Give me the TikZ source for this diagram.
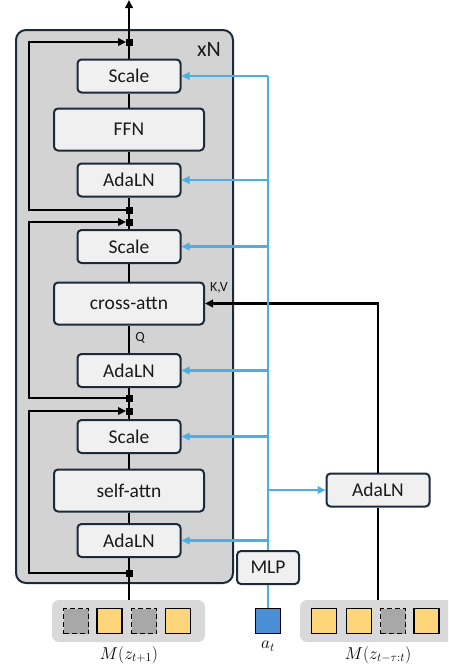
\documentclass[tikz,border=0pt]{standalone}
\usepackage{fontspec}
\setmainfont{Carlito}
\usetikzlibrary{arrows.meta}
\definecolor{navy}{HTML}{1B2B3A}
\definecolor{boxfill}{HTML}{F0F0F0}
\definecolor{outerfill}{HTML}{D3D3D3}
\definecolor{groupfill}{HTML}{D9D9D9}
\definecolor{bluel}{HTML}{4BAEE4}
\definecolor{tokyellow}{HTML}{FFD57A}
\definecolor{tokgray}{HTML}{A8A8A8}
\definecolor{tokblue}{HTML}{4A8FD6}
\definecolor{txt}{HTML}{1A1A1A}
\tikzset{
  blk/.style={draw=navy, line width=2pt, fill=boxfill, rounded corners=4pt, text=txt,
    font=\fontsize{19.5}{22}\selectfont, inner sep=0pt},
  smallblk/.style={blk, minimum width=103pt, minimum height=33pt},
  wideblk/.style={blk, minimum width=150pt, minimum height=42pt},
  wire/.style={draw=black, line width=2.1pt},
  bwire/.style={draw=bluel, line width=2.1pt},
  tip/.style={-{Triangle[length=8pt,width=7.5pt]}},
  junc/.style={fill=black, minimum size=7pt, inner sep=0pt},
  group/.style={fill=groupfill, rounded corners=7pt, inner sep=0pt},
  tokY/.style={draw=black, line width=1.7pt, fill=tokyellow, minimum size=25pt, inner sep=0pt},
  tokG/.style={draw=black, line width=1.7pt, dashed, dash pattern=on 5pt off 3pt, fill=tokgray, minimum size=25pt, inner sep=0pt},
  tokB/.style={draw=black, line width=1.7pt, fill=tokblue, minimum size=25pt, inner sep=0pt},
  mlab/.style={font=\fontsize{17}{19}\selectfont, inner sep=0pt},
  slab/.style={font=\fontsize{14}{16}\selectfont, text=txt, inner sep=0pt}
}
\begin{document}
\begin{tikzpicture}[x=1pt,y=-1pt]
\useasboundingbox (0,0) rectangle (448,664);
% outer block
\draw[navy, line width=2pt, fill=outerfill, rounded corners=10pt] (16,30) rectangle (233,583);
\node[font=\fontsize{22}{24}\selectfont, text=txt] (xn) at (209,49) {xN};

% token groups
\begin{scope}
\clip (0,0) rectangle (448,664);
\node[group, minimum width=153pt, minimum height=42pt] (lgroup) at (128.5,621) {};
\node[group, minimum width=170pt, minimum height=42pt] (rgroup) at (385,621) {};
\end{scope}
\node[tokG] (l1) at (76,621) {};
\node[tokY] (l2) at (109.5,621) {};
\node[tokG] (l3) at (144,621) {};
\node[tokY] (l4) at (178,621) {};
\node[tokY] (r1) at (324,621) {};
\node[tokY] (r2) at (359,621) {};
\node[tokG] (r3) at (393,621) {};
\node[tokY] (r4) at (426.5,621) {};
\node[tokB] (at) at (268,621) {};
\node[mlab] (lm) at (129,655) {$M(z_{t+1})$};
\node[mlab] (lat) at (268,646) {$a_t$};
\node[mlab] (lr) at (378,655) {$M(z_{t-\tau:t})$};

% blocks
\node[smallblk] (sc1) at (129,76) {Scale};
\node[wideblk] (ffn) at (129,129.5) {FFN};
\node[smallblk] (ad1) at (129,180) {AdaLN};
\node[smallblk] (sc2) at (129,246.5) {Scale};
\node[wideblk] (ca) at (129,303.5) {cross-attn};
\node[smallblk] (ad2) at (129,370.5) {AdaLN};
\node[smallblk] (sc3) at (129,436.5) {Scale};
\node[wideblk] (sa) at (129,490.5) {self-attn};
\node[smallblk] (ad3) at (129,540.5) {AdaLN};
\node[smallblk] (adr) at (378,490) {AdaLN};
\node[blk, minimum width=62pt, minimum height=33pt] (mlp) at (268,567.5) {MLP};

% junctions and coordinates
\coordinate (j1) at (129,42);
\coordinate (j2) at (129,210);
\coordinate (j3) at (129,222);
\coordinate (j4) at (129,398);
\coordinate (j5) at (129,411);
\coordinate (j6) at (129,573);
\coordinate (top) at (129,0);
\coordinate (lin) at (129,600);
\coordinate (rin) at (378,600);

% main path
\draw[wire] (lin) -- (ad3.south);
\draw[wire] (ad3.north) -- (sa.south);
\draw[wire] (sa.north) -- (sc3.south);
\draw[wire] (sc3.north) -- (ad2.south);
\draw[wire] (ad2.north) -- (ca.south);
\draw[wire] (ca.north) -- (sc2.south);
\draw[wire] (sc2.north) -- (ad1.south);
\draw[wire] (ad1.north) -- (ffn.south);
\draw[wire] (ffn.north) -- (sc1.south);
\draw[wire, tip] (sc1.north) -- (top);

% residual loops
\draw[wire, tip, shorten >=3pt] (j6) -- ++(-100,0) |- (j5);
\draw[wire, tip, shorten >=3pt] (j4) -- ++(-100,0) |- (j3);
\draw[wire, tip, shorten >=3pt] (j2) -- ++(-100,0) |- (j1);
\foreach \j in {j1,j2,j3,j4,j5,j6} \node[junc] at (\j) {};

\node[slab] (q) at (140,338) {Q};
\node[slab] (kv) at (219,288) {K,V};

% memory path
\draw[wire] (rin) -- (adr.south);
\draw[wire, tip] (adr.north) |- (ca.east);

% conditioning path
\draw[bwire] (at.north) -- (mlp.south);
\draw[bwire] (mlp.north) -- (mlp.north |- sc1.east);
\foreach \b in {sc1,ad1,sc2,ad2,sc3,ad3}
  \draw[bwire, tip] (mlp.north |- \b.east) -- (\b.east);
\draw[bwire, tip] (mlp.north |- adr.west) -- (adr.west);
\end{tikzpicture}
\end{document}
